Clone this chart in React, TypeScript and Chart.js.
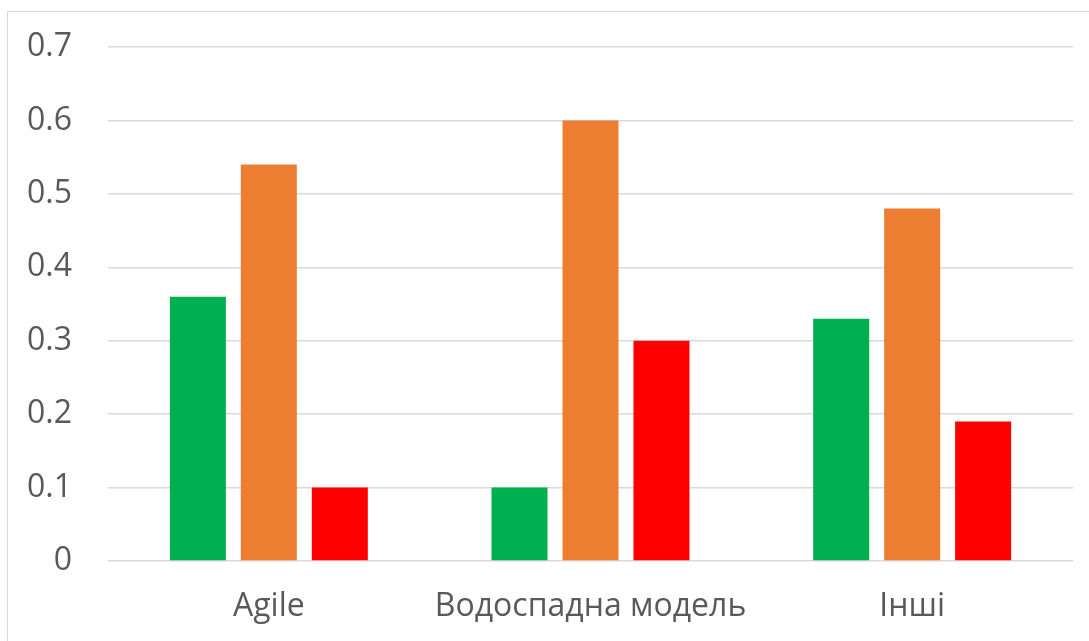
import React, { useEffect, useRef } from "react";
import { Chart, registerables } from "chart.js";

Chart.register(...registerables);

// Categories along the x axis
const categories = ["Agile", "Водоспадна модель", "Інші"];

// Three series per category
const seriesGreen = [0.36, 0.1, 0.33];
const seriesOrange = [0.54, 0.6, 0.48];
const seriesRed = [0.1, 0.3, 0.19];

// Value axis ticks
const yTicks = [0, 0.1, 0.2, 0.3, 0.4, 0.5, 0.6, 0.7];
const yTickLabels = ["0", "0.1", "0.2", "0.3", "0.4", "0.5", "0.6", "0.7"];

const W = 1089;
const H = 641;
const FONT = "'Open Sans', 'Noto Sans', sans-serif";
const TEXT = "#595959";
const GRID = "#d9d9d9";

export default function App() {
  const ref = useRef<HTMLCanvasElement | null>(null);

  useEffect(() => {
    if (!ref.current) return;
    const chart = new Chart(ref.current, {
      type: "bar",
      data: {
        labels: categories,
        datasets: [
          { label: "s1", data: seriesGreen, backgroundColor: "#00B050" },
          { label: "s2", data: seriesOrange, backgroundColor: "#ED7D31" },
          { label: "s3", data: seriesRed, backgroundColor: "#FF0000" },
        ],
      },
      options: {
        responsive: false,
        animation: false,
        devicePixelRatio: 1,
        layout: { padding: { left: 0, top: 47, right: 16, bottom: 0 } },
        datasets: {
          bar: { categoryPercentage: 0.662, barPercentage: 0.789 },
        },
        plugins: {
          legend: { display: false },
          tooltip: { enabled: false },
        },
        scales: {
          x: {
            grid: { display: false, drawTicks: false },
            border: { display: false },
            ticks: {
              color: TEXT,
              font: { family: FONT, size: 32 },
              padding: 27,
              maxRotation: 0,
              autoSkip: false,
            },
            afterFit: (scale: any) => {
              scale.height = 80;
            },
          },
          y: {
            min: 0,
            max: 0.7,
            grid: { color: GRID, lineWidth: 1.5, drawTicks: false },
            border: { display: false },
            afterBuildTicks: (scale: any) => {
              scale.ticks = yTicks.map((v) => ({ value: v }));
            },
            ticks: {
              color: TEXT,
              font: { family: FONT, size: 32 },
              padding: 36,
              callback: (_v: any, i: number) => yTickLabels[i],
            },
            afterFit: (scale: any) => {
              // fixed axis width; the label gap should not push the plot down
              scale.width = 108;
              scale.paddingTop = 0;
              scale.paddingBottom = 0;
            },
          },
        },
      },
    });
    return () => chart.destroy();
  }, []);

  return (
    <div
      style={{
        position: "fixed",
        left: 0,
        top: 0,
        width: W,
        height: H,
        background: "#fff",
        overflow: "hidden",
      }}
    >
      <div
        style={{
          position: "absolute",
          left: 7,
          top: 11,
          width: W + 20,
          height: H + 20,
          borderLeft: `1.5px solid ${GRID}`,
          borderTop: `1.5px solid ${GRID}`,
        }}
      />
      <canvas
        ref={ref}
        width={W}
        height={H}
        style={{ position: "absolute", left: 0, top: 0, width: W, height: H }}
      />
    </div>
  );
}
